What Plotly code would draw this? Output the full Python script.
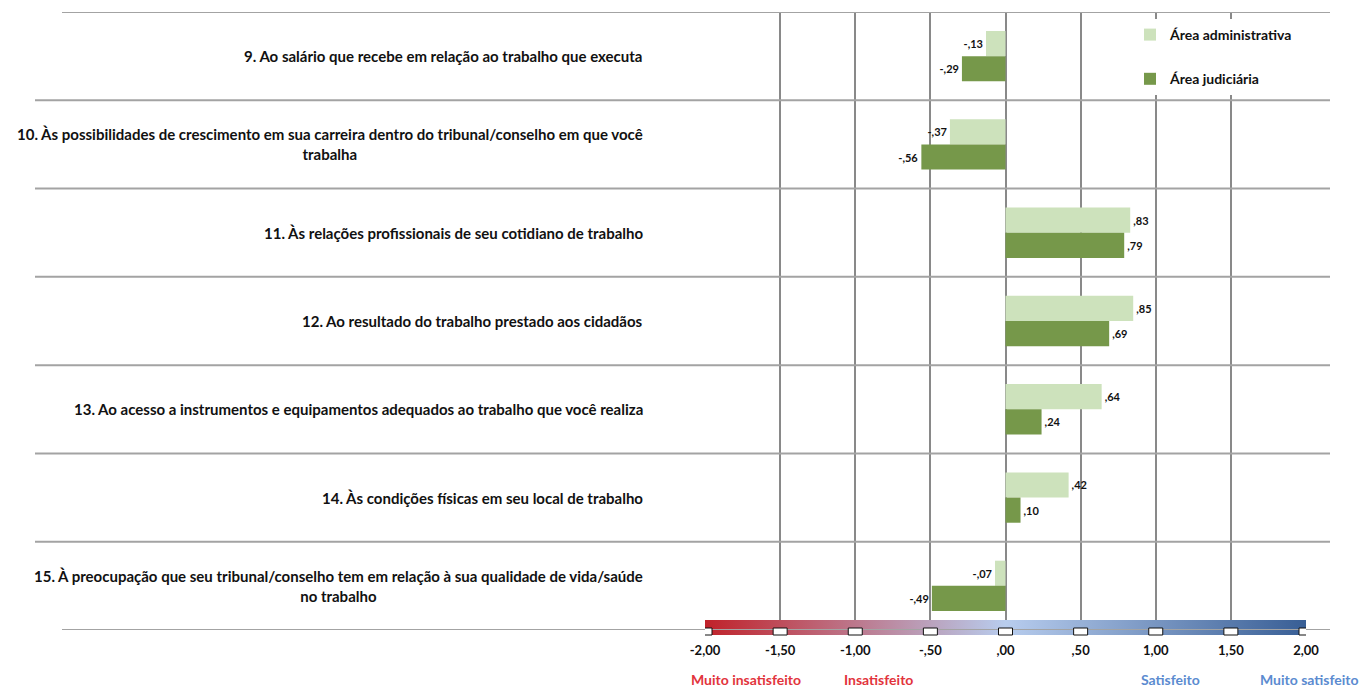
import plotly.graph_objects as go

CATEGORIES = [
    "9. Ao salário que recebe em relação ao trabalho que executa",
    "10. Às possibilidades de crescimento em sua carreira dentro do tribunal/conselho em que você<br>trabalha",
    "11. Às relações profissionais de seu cotidiano de trabalho",
    "12. Ao resultado do trabalho prestado aos cidadãos",
    "13. Ao acesso a instrumentos e equipamentos adequados ao trabalho que você realiza",
    "14. Às condições físicas em seu local de trabalho",
    "15. À preocupação que seu tribunal/conselho tem em relação à sua qualidade de vida/saúde<br>no trabalho",
]
ADMIN = [-0.13, -0.37, 0.83, 0.85, 0.64, 0.42, -0.07]
JUDIC = [-0.29, -0.56, 0.79, 0.69, 0.24, 0.10, -0.49]
TICKS = [-2.0, -1.5, -1.0, -0.5, 0.0, 0.5, 1.0, 1.5, 2.0]
TICK_TEXT = ["-2,00", "-1,50", "-1,00", "-,50", ",00", ",50", "1,00", "1,50", "2,00"]
SCALE_LABELS = ["Muito insatisfeito", "Insatisfeito", "Satisfeito", "Muito satisfeito"]
SCALE_POS = [-1.73, -0.845, 1.10, 2.02]
SCALE_COLORS = ["#e2343c", "#e2343c", "#5b8bd0", "#5b8bd0"]

FONT = "Lato"
LIGHT = "#cde2bc"
DARK = "#76984a"


def fmt(v):
    s = f"{abs(v):.2f}".replace(".", ",")
    if s.startswith("0"):
        s = s[1:]
    return ("-" if v < 0 else "") + s


idx = list(range(len(CATEGORIES)))

fig = go.Figure()
fig.add_trace(go.Bar(
    y=idx, x=ADMIN, orientation="h", name="Área administrativa",
    marker=dict(color=LIGHT, line=dict(width=0)),
    text=[fmt(v) for v in ADMIN], textposition="outside",
    textfont=dict(family=FONT, size=11, color="#111", weight="bold"),
    constraintext="none", cliponaxis=False, legendgroup="a",
))
fig.add_trace(go.Bar(
    y=idx, x=JUDIC, orientation="h", name="Área judiciária",
    marker=dict(color=DARK, line=dict(width=0)),
    text=[fmt(v) for v in JUDIC], textposition="outside",
    textfont=dict(family=FONT, size=11, color="#111", weight="bold"),
    constraintext="none", cliponaxis=False, legendgroup="b",
))

# gradient scale strip
x0, x1 = TICKS[0], TICKS[-1]
fig.add_trace(go.Scatter(
    x=[x0, x1, x1, x0, x0], y=[0, 0, 1, 1, 0], mode="lines",
    line=dict(width=0), fill="toself",
    fillgradient=dict(type="horizontal",
                      colorscale=[[0, "#c0222a"], [0.5, "#b8cdee"], [1, "#385e95"]]),
    xaxis="x", yaxis="y2", showlegend=False, hoverinfo="skip",
))

W, H = 1364, 690
L, R, T, B = 705, 58, 12, 55
PW = W - L - R
PH = H - T - B

fig.update_layout(
    width=W, height=H,
    margin=dict(l=L, r=R, t=T, b=B),
    paper_bgcolor="white", plot_bgcolor="white",
    barmode="group", bargap=0.43, bargroupgap=0,
    font=dict(family=FONT, color="#111"),
    xaxis=dict(range=[x0, x1], tickvals=TICKS, ticktext=TICK_TEXT,
               showgrid=True, gridcolor="#898989", gridwidth=2,
               zeroline=False, showline=False, ticks="",
               tickfont=dict(family=FONT, size=13, color="#111", weight="bold"),
               ticklabelstandoff=11, anchor="y"),
    yaxis=dict(domain=[5 / PH, 1], range=[len(CATEGORIES) - 0.5, -0.5],
               showticklabels=False, showgrid=False, zeroline=False, ticks=""),
    yaxis2=dict(domain=[0, 15 / PH], range=[0, 1], visible=False, fixedrange=True),
    legend=dict(x=(1130 - L) / PW, y=1 - 7 / PH, xanchor="left", yanchor="top",
                bgcolor="white", borderwidth=0, tracegroupgap=23,
                traceorder="grouped",
                font=dict(family=FONT, size=14, color="#111", weight="bold")),
    showlegend=True,
)

# category labels
for i, c in enumerate(CATEGORIES):
    fig.add_annotation(x=-0.1, xref="paper", y=i, yref="y", text=c,
                       xanchor="right", yanchor="middle", align="center",
                       showarrow=False,
                       font=dict(family=FONT, size=15, color="#111", weight="bold"))

# row separators
LEFT = (62 - L) / PW
LEFT_IN = (35 - L) / PW
RIGHT = (1330 - L) / PW
n = len(CATEGORIES)
for k in range(n + 1):
    yb = k - 0.5
    fig.add_shape(type="line", xref="paper", yref="y",
                  x0=LEFT if k in (0, n) else LEFT_IN, x1=RIGHT, y0=yb, y1=yb,
                  line=dict(color="#a3a3a3", width=2), layer="above")

# tick markers on scale
for t in TICKS:
    fig.add_shape(type="rect", xref="x", yref="paper",
                  xsizemode="pixel", xanchor=t, x0=-7, x1=7,
                  ysizemode="pixel", yanchor=3 / PH, y0=-3, y1=4,
                  fillcolor="white", line=dict(color="#111", width=1), layer="above")

# scale text labels
for lab, p, col in zip(SCALE_LABELS, SCALE_POS, SCALE_COLORS):
    fig.add_annotation(x=(p - x0) / (x1 - x0), xref="paper", y=-44 / PH, yref="paper",
                       text=lab, showarrow=False, xanchor="center", yanchor="middle",
                       font=dict(family=FONT, size=14, color=col, weight="bold"))

fig.write_html("out.html", config={"displayModeBar": False},
               post_script="document.body.style.margin='0';document.body.style.padding='0';")
